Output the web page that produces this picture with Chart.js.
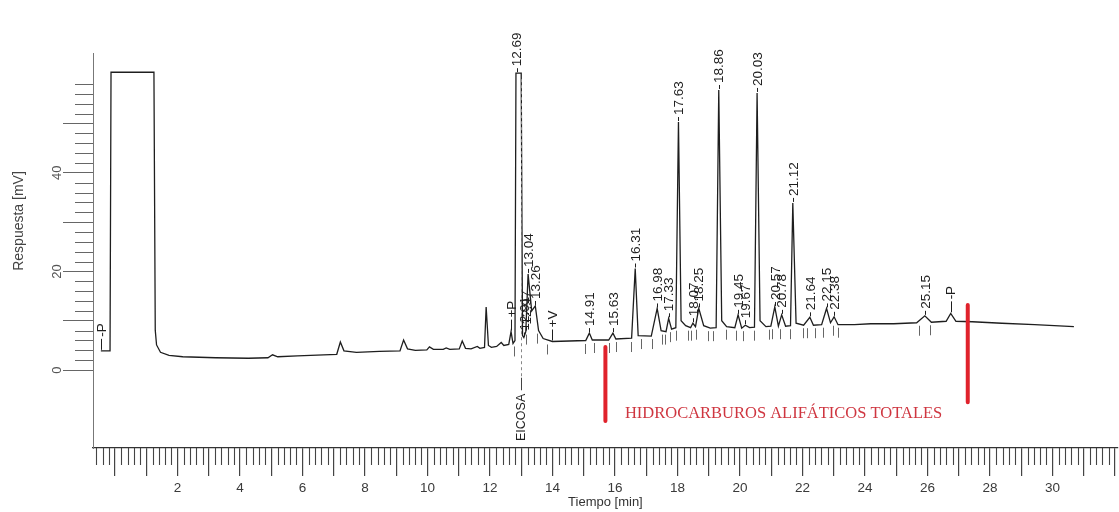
<!DOCTYPE html>
<html>
<head>
<meta charset="utf-8">
<script src="https://cdn.jsdelivr.net/npm/chart.js@4.4.1/dist/chart.umd.min.js"></script>
<style>
  html, body { margin: 0; padding: 0; background: #ffffff; }
  #c { display: block; }
</style>
</head>
<body>
<canvas id="c" width="1119" height="512"></canvas>
<script>
// Detector trace: retention time [min] and response [mV]
const traceTime = [
  0.00, 0.28, 0.31, 1.62, 1.66, 1.70, 1.82, 2.08, 2.50, 3.50,
  4.50, 5.10, 5.24, 5.40, 6.00, 6.80, 7.20, 7.31, 7.42, 7.80,
  8.50, 9.13, 9.24, 9.36, 9.60, 9.95, 10.03, 10.15, 10.45, 10.54,
  10.65, 10.94, 11.03, 11.13, 11.30, 11.49, 11.57, 11.71, 11.76, 11.83,
  11.92, 12.08, 12.22, 12.30, 12.45, 12.52, 12.58, 12.64, 12.67, 12.69,
  12.83, 12.87, 12.91, 12.97, 13.04, 13.15, 13.26, 13.36, 13.50, 13.78,
  14.30, 14.80, 14.91, 15.00, 15.50, 15.63, 15.72, 16.20, 16.31, 16.40,
  16.80, 16.98, 17.10, 17.25, 17.33, 17.42, 17.55, 17.63, 17.71, 17.85,
  18.00, 18.07, 18.15, 18.25, 18.40, 18.60, 18.78, 18.86, 18.95, 19.10,
  19.35, 19.45, 19.56, 19.67, 19.80, 19.95, 20.03, 20.12, 20.30, 20.45,
  20.57, 20.68, 20.78, 20.90, 21.05, 21.12, 21.22, 21.45, 21.64, 21.75,
  22.00, 22.15, 22.27, 22.38, 22.50, 23.00, 23.50, 24.20, 24.90, 25.15,
  25.35, 25.80, 25.94, 26.10, 26.60, 27.50, 28.50, 29.70
];
const traceResp = [
  3.9, 3.9, 60.4, 60.4, 8.1, 5.1, 3.6, 3.0, 2.7, 2.5,
  2.4, 2.5, 3.1, 2.7, 2.9, 3.1, 3.2, 5.7, 3.9, 3.6,
  3.8, 3.9, 6.1, 4.3, 4.0, 4.1, 4.7, 4.2, 4.2, 4.5,
  4.2, 4.3, 5.9, 4.4, 4.3, 4.8, 4.4, 4.6, 12.8, 5.0,
  4.6, 4.8, 5.6, 5.0, 5.2, 7.8, 5.4, 6.0, 60.2, 60.2,
  60.2, 7.0, 6.6, 7.8, 19.5, 12.0, 13.0, 8.0, 6.4, 5.8,
  5.9, 6.0, 7.5, 6.1, 6.1, 7.5, 6.3, 6.5, 20.6, 7.0,
  6.9, 12.5, 8.0, 7.8, 10.5, 8.3, 8.6, 50.3, 10.0, 9.0,
  8.6, 9.5, 8.8, 12.5, 9.0, 8.5, 8.6, 56.8, 10.0, 8.8,
  8.6, 11.2, 8.5, 9.1, 8.6, 8.7, 56.2, 10.0, 8.8, 8.9,
  12.8, 8.9, 11.2, 8.9, 9.0, 33.9, 9.5, 9.1, 10.7, 9.1,
  9.2, 12.5, 9.6, 10.8, 9.2, 9.2, 9.4, 9.4, 9.6, 11.0,
  9.7, 9.9, 11.5, 9.9, 9.8, 9.5, 9.2, 8.8
];

// Labelled peaks (retention time, min)
const peakTimes = [
  12.69, 12.91, 12.97, 13.04, 13.26, 14.91, 15.63, 16.31, 16.98, 17.33,
  17.63, 18.07, 18.25, 18.86, 19.45, 19.67, 20.03, 20.57, 20.78, 21.12,
  21.64, 22.15, 22.38, 25.15
];

// Integrator events
const eventTimes = [0.00, 12.52, 13.78, 25.94];
const eventLabels = ['-P', '+P', '+V', '-P'];

// Peak start / end marks of the integrator
const markerTimes = [
  12.60, 12.99, 13.30, 13.62, 14.78, 15.06, 15.50, 15.73, 16.19, 16.49,
  16.83, 17.13, 17.23, 17.38, 17.56, 17.92, 18.02, 18.17, 18.52, 18.68,
  19.08, 19.40, 19.60, 19.93, 20.40, 20.50, 20.74, 21.04, 21.42, 21.54,
  21.79, 22.05, 22.35, 22.50, 24.97, 25.32
];

// Internal standard
const standardTime = 12.69;
const standardName = 'EICOSA \u2014';

// Total aliphatic hydrocarbons window
const windowTimes = [15.40, 26.46];
const windowLow = [-10.3, -6.5];
const windowHigh = [4.7, 13.2];
const windowTitle = 'HIDROCARBUROS ALIF\u00C1TICOS TOTALES';

// Axis labels
const timeTickLabels = [2, 4, 6, 8, 10, 12, 14, 16, 18, 20, 22, 24, 26, 28, 30];
const respTickLabels = [0, 20, 40];
const respMajorTicks = [0, 10, 20, 30, 40, 50];
const respMinorStep = 2, respMinorMax = 58;
const timeMinorStep = 0.2;

const SANS = '"Liberation Sans", Arial, sans-serif';
const SERIF = '"Liberation Serif", "Times New Roman", serif';
const INK = '#1e1e1e';

const tracePoints = traceTime.map((t, i) => ({ x: t, y: traceResp[i] }));
const windowSets = windowTimes.map((t, i) => ({
  data: [{ x: t, y: windowHigh[i] }, { x: t, y: windowLow[i] }],
  borderColor: '#e0222c',
  borderWidth: 4,
  borderCapStyle: 'round',
  pointRadius: 0,
  order: 0
}));

function respAt(t) {
  // lowest neighbouring trace value, used to sit marks under the baseline
  for (let i = 0; i < traceTime.length - 1; i++) {
    if (t >= traceTime[i] && t <= traceTime[i + 1]) {
      return Math.min(traceResp[i], traceResp[i + 1]);
    }
  }
  return traceResp[traceResp.length - 1];
}
function exactResp(t) {
  const i = traceTime.findIndex(v => Math.abs(v - t) < 1e-6);
  return i >= 0 ? traceResp[i] : respAt(t);
}

function tag(ctx, px, py, text, gap) {
  ctx.beginPath();
  ctx.moveTo(Math.round(px) + 0.5, py - 1);
  ctx.lineTo(Math.round(px) + 0.5, py - 1 - gap);
  ctx.stroke();
  ctx.save();
  ctx.translate(px, py - 3 - gap);
  ctx.rotate(-Math.PI / 2);
  ctx.textAlign = 'left';
  ctx.textBaseline = 'middle';
  ctx.fillText(text, 0, 1);
  ctx.restore();
}

const decor = {
  id: 'chromDecor',
  afterDraw(chart) {
    const ctx = chart.ctx;
    const xs = chart.scales.x, ys = chart.scales.y, rs = chart.scales.ruler;
    const area = chart.chartArea;
    ctx.save();

    // minor ruler ticks along the time axis
    ctx.strokeStyle = '#444';
    ctx.lineWidth = 1.1;
    const kMin = Math.ceil(rs.min / timeMinorStep), kMax = Math.floor(rs.max / timeMinorStep);
    for (let k = kMin; k <= kMax; k++) {
      if (k % 5 === 0) continue;
      const px = Math.round(rs.getPixelForValue(k * timeMinorStep)) + 0.5;
      ctx.beginPath();
      ctx.moveTo(px, area.bottom);
      ctx.lineTo(px, area.bottom + 17);
      ctx.stroke();
    }

    // minor ticks on the response axis
    ctx.strokeStyle = '#666';
    ctx.lineWidth = 1;
    for (let v = respMinorStep; v <= respMinorMax; v += respMinorStep) {
      if (v % 10 === 0) continue;
      const py = Math.round(ys.getPixelForValue(v)) + 0.5;
      ctx.beginPath();
      ctx.moveTo(area.left, py);
      ctx.lineTo(area.left - 18, py);
      ctx.stroke();
    }

    // response tick labels
    ctx.fillStyle = '#555';
    ctx.font = '13px ' + SANS;
    respTickLabels.forEach(v => {
      ctx.save();
      ctx.translate(area.left - 36, ys.getPixelForValue(v));
      ctx.rotate(-Math.PI / 2);
      ctx.textAlign = 'center';
      ctx.textBaseline = 'middle';
      ctx.fillText(String(v), 0, 0);
      ctx.restore();
    });

    // response axis title
    ctx.save();
    ctx.translate(19, 221);
    ctx.rotate(-Math.PI / 2);
    ctx.textAlign = 'center';
    ctx.textBaseline = 'middle';
    ctx.fillStyle = '#444';
    ctx.font = '14px ' + SANS;
    ctx.fillText('Respuesta [mV]', 0, 0);
    ctx.restore();

    // integrator start / end marks
    ctx.strokeStyle = '#666';
    ctx.lineWidth = 1;
    markerTimes.forEach(t => {
      const px = Math.round(xs.getPixelForValue(t)) + 0.5;
      const py = ys.getPixelForValue(respAt(t));
      ctx.beginPath();
      ctx.moveTo(px, py + 3);
      ctx.lineTo(px, py + 13);
      ctx.stroke();
    });

    // peak retention-time labels
    ctx.fillStyle = INK;
    ctx.strokeStyle = INK;
    ctx.lineWidth = 1;
    ctx.font = '13.5px ' + SANS;
    peakTimes.forEach(t => {
      tag(ctx, xs.getPixelForValue(t), ys.getPixelForValue(exactResp(t)), t.toFixed(2), 4);
    });
    eventTimes.forEach((t, i) => {
      tag(ctx, xs.getPixelForValue(t), ys.getPixelForValue(exactResp(t)), eventLabels[i], 11);
    });

    // internal standard marker below the trace
    const sx = xs.getPixelForValue(standardTime) + 4;
    ctx.strokeStyle = '#888';
    ctx.setLineDash([3, 3]);
    ctx.beginPath();
    ctx.moveTo(Math.round(sx) + 0.5, ys.getPixelForValue(respAt(standardTime)) + 6);
    ctx.lineTo(Math.round(sx) + 0.5, 378);
    ctx.stroke();
    ctx.setLineDash([]);
    ctx.save();
    ctx.translate(sx, 441);
    ctx.rotate(-Math.PI / 2);
    ctx.textAlign = 'left';
    ctx.textBaseline = 'middle';
    ctx.fillStyle = INK;
    ctx.font = '12.5px ' + SANS;
    ctx.fillText(standardName, 0, 1);
    ctx.restore();

    // window caption
    ctx.fillStyle = '#cf3640';
    ctx.font = '16.5px ' + SERIF;
    ctx.textAlign = 'center';
    ctx.textBaseline = 'middle';
    const cx = (xs.getPixelForValue(windowTimes[0]) + xs.getPixelForValue(windowTimes[1])) / 2 - 3;
    ctx.fillText(windowTitle, cx, ys.getPixelForValue((windowLow[0] + windowLow[1]) / 2) + 2);

    ctx.restore();
  }
};

new Chart(document.getElementById('c'), {
  type: 'line',
  data: {
    datasets: [
      {
        data: tracePoints,
        borderColor: INK,
        borderWidth: 1.3,
        pointRadius: 0,
        tension: 0,
        order: 1
      },
      ...windowSets
    ]
  },
  options: {
    responsive: false,
    animation: false,
    events: [],
    layout: { padding: { top: 53, left: 0, right: 0, bottom: 0 } },
    plugins: { legend: { display: false }, tooltip: { enabled: false } },
    scales: {
      x: {
        type: 'linear',
        display: false,
        min: -0.24,
        max: 31.04
      },
      ruler: {
        type: 'linear',
        axis: 'x',
        position: 'bottom',
        min: -0.707,
        max: 32.09,
        afterBuildTicks(s) {
          const out = [];
          for (let v = Math.ceil(s.min); v <= Math.floor(s.max); v++) out.push({ value: v });
          s.ticks = out;
        },
        afterFit(s) { s.height = 64; },
        ticks: {
          autoSkip: false,
          minRotation: 0,
          maxRotation: 0,
          padding: 4,
          color: '#3a3a3a',
          font: { family: SANS, size: 13.5 },
          callback: v => (timeTickLabels.includes(v) ? String(v) : '')
        },
        grid: {
          drawOnChartArea: false,
          drawTicks: true,
          tickLength: 28,
          color: '#444',
          lineWidth: 1.2
        },
        border: { display: true, color: '#333', width: 1.3 },
        title: {
          display: true,
          text: 'Tiempo [min]',
          color: '#333',
          font: { family: SANS, size: 13 },
          padding: { top: 0, bottom: 2 }
        }
      },
      y: {
        type: 'linear',
        position: 'left',
        min: -15.8,
        max: 64.3,
        afterBuildTicks(s) { s.ticks = respMajorTicks.map(v => ({ value: v })); },
        afterFit(s) { s.width = 93; },
        ticks: { display: false },
        grid: {
          drawOnChartArea: false,
          drawTicks: true,
          tickLength: 30,
          color: '#666',
          lineWidth: 1
        },
        border: { display: true, color: '#777', width: 1 }
      }
    }
  },
  plugins: [decor]
});
</script>
</body>
</html>
